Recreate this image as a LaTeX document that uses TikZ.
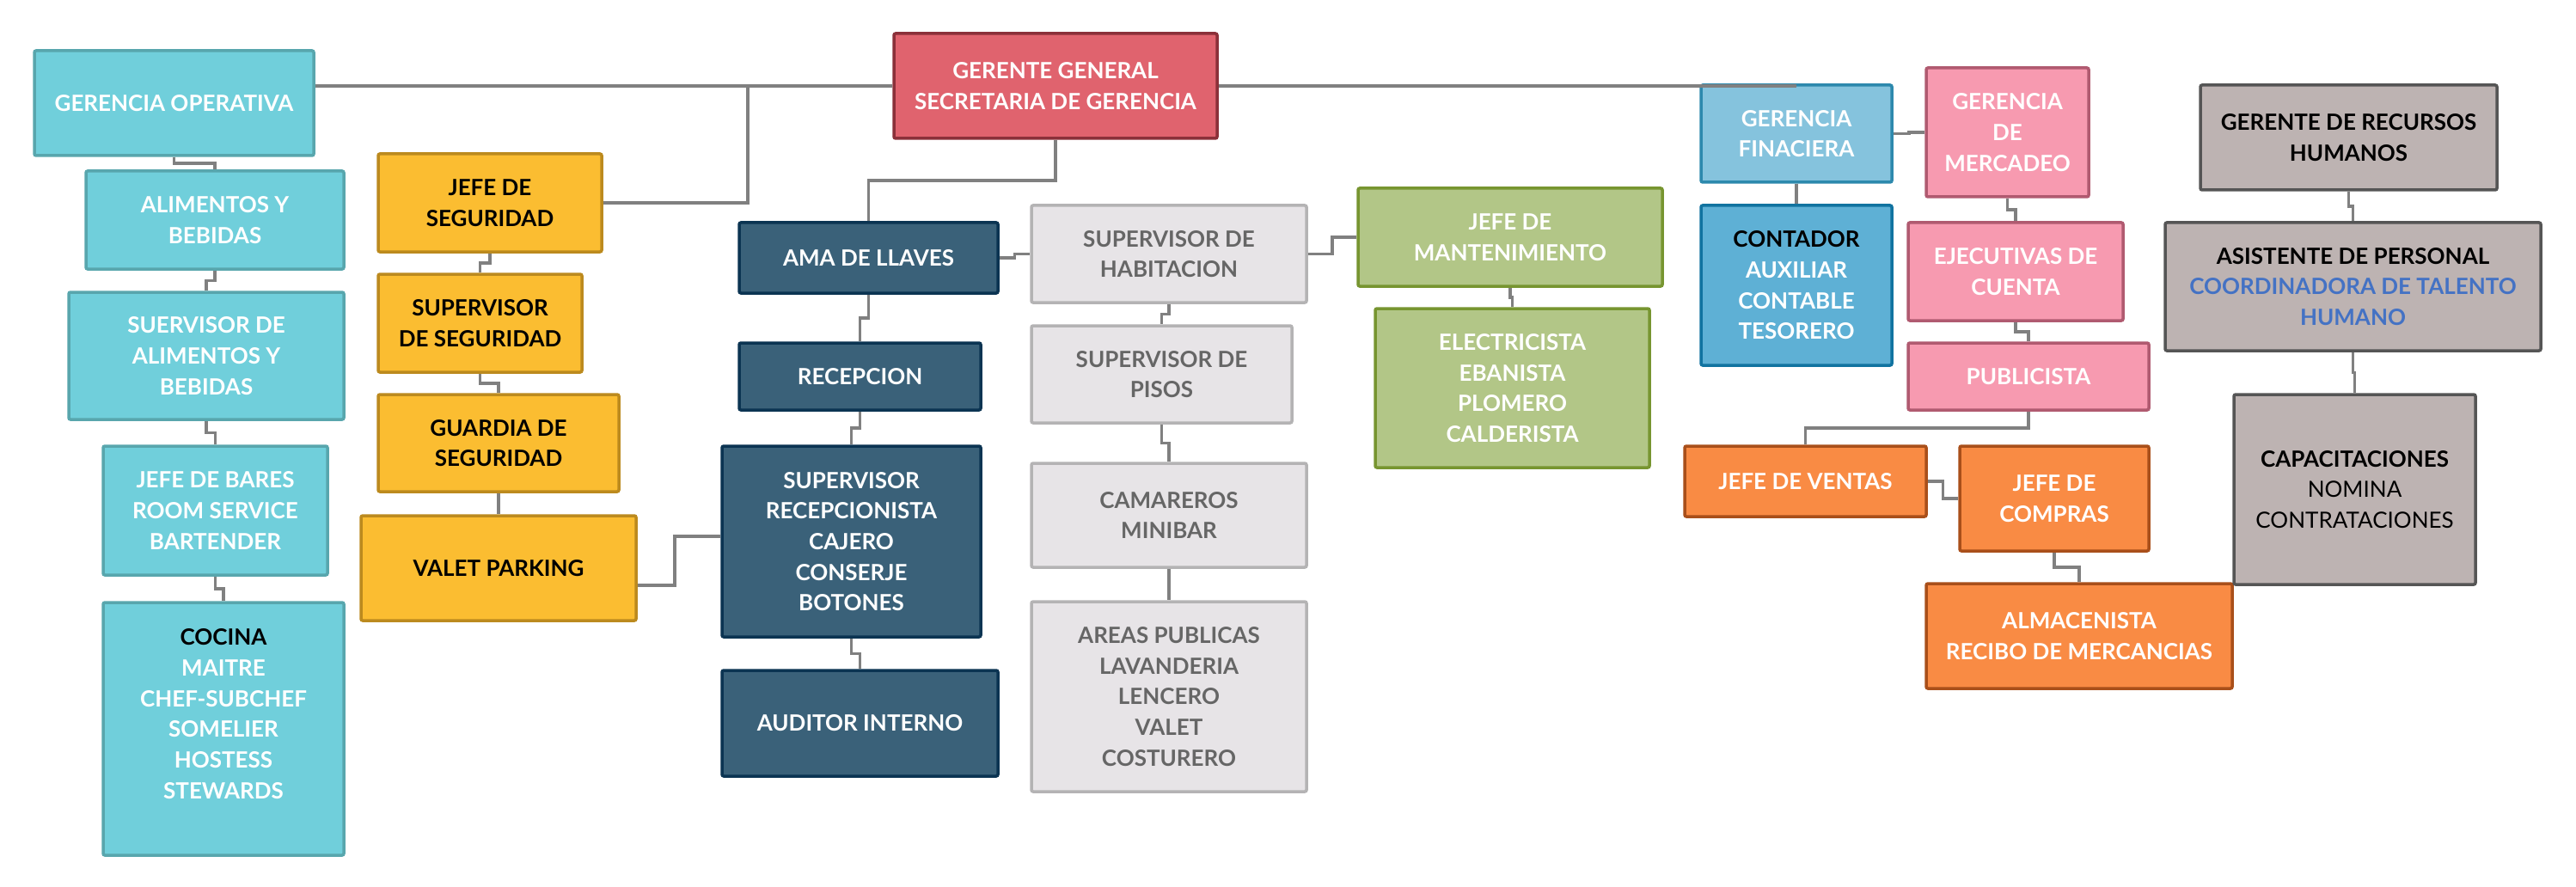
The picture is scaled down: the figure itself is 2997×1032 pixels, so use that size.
\documentclass[tikz,border=0pt]{standalone}
\usepackage{fontspec}
\setmainfont{Lato}
\usetikzlibrary{calc}
\definecolor{tealF}{HTML}{70CFDB}\definecolor{tealD}{HTML}{58A6AD}
\definecolor{yelF}{HTML}{FBBD31}\definecolor{yelD}{HTML}{BC8A1E}
\definecolor{navF}{HTML}{3A6179}\definecolor{navD}{HTML}{0B3452}
\definecolor{lgF}{HTML}{E7E4E7}\definecolor{lgD}{HTML}{B4B3B4}\definecolor{lgT}{HTML}{666666}
\definecolor{redF}{HTML}{E0636E}\definecolor{redD}{HTML}{8B3039}
\definecolor{grnF}{HTML}{B2C687}\definecolor{grnD}{HTML}{779530}
\definecolor{gfF}{HTML}{85C3DD}\definecolor{gfD}{HTML}{2D89AD}
\definecolor{ctF}{HTML}{5EB0D5}\definecolor{ctD}{HTML}{1173A0}
\definecolor{pkF}{HTML}{F79AB0}\definecolor{pkD}{HTML}{B05A70}
\definecolor{orF}{HTML}{F98B44}\definecolor{orD}{HTML}{A94F1A}
\definecolor{rhF}{HTML}{BDB3B2}\definecolor{rhD}{HTML}{555555}
\definecolor{hblue}{HTML}{4472C4}
\definecolor{connC}{HTML}{808080}
\tikzset{
  box/.style={draw, line width=1.75pt, rounded corners=1pt, align=center, inner sep=0pt,
    font=\bfseries\fontsize{13pt}{17.85pt}\selectfont},
  sTeal/.style={box, fill=tealF, draw=tealD, text=white},
  sYel/.style={box, fill=yelF, draw=yelD, text=black},
  sNav/.style={box, fill=navF, draw=navD, text=white},
  sLg/.style={box, fill=lgF, draw=lgD, text=lgT},
  sRed/.style={box, fill=redF, draw=redD, text=white},
  sGrn/.style={box, fill=grnF, draw=grnD, text=white},
  sGf/.style={box, fill=gfF, draw=gfD, text=white},
  sCt/.style={box, fill=ctF, draw=ctD, text=white},
  sPk/.style={box, fill=pkF, draw=pkD, text=white},
  sOr/.style={box, fill=orF, draw=orD, text=white},
  sRh/.style={box, fill=rhF, draw=rhD, text=black},
  conn/.style={draw=connC, line width=1.8pt},
  elbowv/.style={to path={|- ($(\tikztostart)!0.5!(\tikztotarget)$) -| (\tikztotarget)}},
  elbowh/.style={to path={-| ($(\tikztostart)!0.5!(\tikztotarget)$) |- (\tikztotarget)}},
}
\newcommand\bx[7]{\node[#6, minimum width={(#4-#2)*0.5pt}, minimum height={(#5-#3)*0.5pt}] (#1) at ({(#2+#4)/2},{(#3+#5)/2}) {#7};}
\begin{document}
\begin{tikzpicture}[x=0.5pt, y=-0.5pt]
\useasboundingbox (0,0) rectangle (2997,1032);
\fill[white] (0,0) rectangle (2997,1032);
% left column (teal)
\bx{GO}{40}{59}{365}{181}{sTeal}{GERENCIA OPERATIVA}
\bx{AyB}{100}{199}{400}{313}{sTeal}{ALIMENTOS Y\\BEBIDAS}
\bx{SAyB}{80}{340}{400}{488}{sTeal}{SUERVISOR DE\\ALIMENTOS Y\\BEBIDAS}
\bx{JdB}{120}{519}{381}{669}{sTeal}{JEFE DE BARES\\ROOM SERVICE\\BARTENDER}
\bx{COC}{120}{701}{400}{995}{sTeal}{}
\node[align=center, inner sep=0pt, text=white, font=\bfseries\fontsize{13pt}{17.85pt}\selectfont] (cocTxt) at (260,830.5)
  {\textcolor{black}{COCINA}\\MAITRE\\CHEF-SUBCHEF\\SOMELIER\\HOSTESS\\STEWARDS};
% yellow
\bx{JdS}{440}{179}{700}{293}{sYel}{JEFE DE\\SEGURIDAD}
\bx{SdS}{440}{319}{677}{433}{sYel}{SUPERVISOR\\DE SEGURIDAD}
\bx{GdS}{440}{459}{720}{572}{sYel}{GUARDIA DE\\SEGURIDAD}
\bx{VP}{420}{600}{740}{722}{sYel}{VALET PARKING}
% center
\bx{GG}{1040}{39}{1416}{161}{sRed}{GERENTE GENERAL\\SECRETARIA DE GERENCIA}
\bx{AMA}{860}{259}{1161}{341}{sNav}{AMA DE LLAVES}
\bx{REC}{860}{399}{1141}{477}{sNav}{RECEPCION}
\bx{SRC}{840}{519}{1141}{741}{sNav}{SUPERVISOR\\RECEPCIONISTA\\CAJERO\\CONSERJE\\BOTONES}
\bx{AUD}{840}{780}{1161}{903}{sNav}{AUDITOR INTERNO}
\bx{SdH}{1200}{239}{1520}{352}{sLg}{SUPERVISOR DE\\HABITACION}
\bx{SdP}{1200}{379}{1503}{492}{sLg}{SUPERVISOR DE\\PISOS}
\bx{CAM}{1200}{539}{1520}{660}{sLg}{CAMAREROS\\MINIBAR}
\bx{ARE}{1200}{700}{1520}{921}{sLg}{AREAS PUBLICAS\\LAVANDERIA\\LENCERO\\VALET\\COSTURERO}
\bx{JdM}{1580}{219}{1934}{333}{sGrn}{JEFE DE\\MANTENIMIENTO}
\bx{ELE}{1600}{359}{1919}{544}{sGrn}{ELECTRICISTA\\EBANISTA\\PLOMERO\\CALDERISTA}
% right
\bx{GF}{1979}{99}{2201}{212}{sGf}{GERENCIA\\FINACIERA}
\bx{CON}{1979}{239}{2201}{425}{sCt}{\textcolor{black}{CONTADOR}\\AUXILIAR\\CONTABLE\\TESORERO}
\bx{GM}{2241}{79}{2430}{229}{sPk}{GERENCIA\\DE\\MERCADEO}
\bx{EdC}{2220}{259}{2470}{373}{sPk}{EJECUTIVAS DE\\CUENTA}
\bx{PUB}{2220}{399}{2500}{477}{sPk}{PUBLICISTA}
\bx{JdV}{1960}{519}{2241}{601}{sOr}{JEFE DE VENTAS}
\bx{JdC}{2280}{519}{2500}{641}{sOr}{JEFE DE\\COMPRAS}
\bx{ALM}{2241}{679}{2597}{801}{sOr}{ALMACENISTA\\RECIBO DE MERCANCIAS}
\bx{GRH}{2560}{99}{2905}{221}{sRh}{GERENTE DE RECURSOS\\HUMANOS}
\bx{ADP}{2519}{259}{2956}{408}{sRh}{ASISTENTE DE PERSONAL\\\textcolor{hblue}{COORDINADORA DE TALENTO}\\\textcolor{hblue}{HUMANO}}
\bx{CAP}{2599}{459}{2880}{680}{sRh}{CAPACITACIONES\\{\mdseries NOMINA}\\{\mdseries CONTRATACIONES}}
% connectors
\coordinate (jb) at (870,100);
\draw[conn] (GG.west) -- (GG.west -| GO.east);
\draw[conn] (JdS.east) -| (jb);
\draw[conn] (GG.east) -- (GG.east -| GF.north);
\draw[conn] (GO.south) to[elbowv] (AyB.north);
\draw[conn] (AyB.south) to[elbowv] (SAyB.north);
\draw[conn] (SAyB.south) to[elbowv] (JdB.north);
\draw[conn] (JdB.south) to[elbowv] (COC.north);
\draw[conn] (JdS.south) to[elbowv] (SdS.north);
\draw[conn] (SdS.south) to[elbowv] (GdS.north);
\draw[conn] (GdS.south) to[elbowv] (VP.north);
\draw[conn] ($(VP.east)+(0,20)$) -- ++(43,0) |- ($(SRC.west)+(0,-6)$);
\draw[conn] (GG.south) to[elbowv] (AMA.north);
\draw[conn] (AMA.south) to[elbowv] (REC.north);
\draw[conn] (REC.south) to[elbowv] (SRC.north);
\draw[conn] (SRC.south) to[elbowv] (AUD.north);
\draw[conn] (AMA.east) to[elbowh] (SdH.west);
\draw[conn] (SdH.east) to[elbowh] (JdM.west);
\draw[conn] (SdH.south) to[elbowv] (SdP.north);
\draw[conn] (SdP.south) to[elbowv] (CAM.north);
\draw[conn] (CAM.south) to[elbowv] (ARE.north);
\draw[conn] (JdM.south) to[elbowv] (ELE.north);
\draw[conn] (GF.south) to[elbowv] (CON.north);
\draw[conn] (GF.east) to[elbowh] (GM.west);
\draw[conn] (GM.south) to[elbowv] (EdC.north);
\draw[conn] (EdC.south) to[elbowv] (PUB.north);
\draw[conn] (PUB.south) to[elbowv] (JdV.north);
\draw[conn] (JdV.east) to[elbowh] (JdC.west);
\draw[conn] (JdC.south) to[elbowv] (ALM.north);
\draw[conn] (GRH.south) to[elbowv] (ADP.north);
\draw[conn] (ADP.south) to[elbowv] (CAP.north);
\end{tikzpicture}
\end{document}
